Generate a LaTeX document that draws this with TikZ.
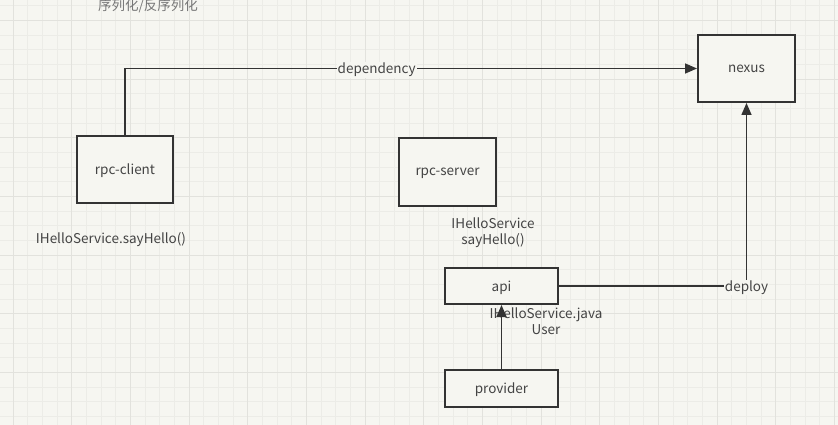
\documentclass[tikz,border=0pt]{standalone}
\usepackage{fontspec}
\setmainfont{Noto Sans CJK SC}
\usetikzlibrary{arrows.meta}
\definecolor{bg}{HTML}{F6F6F1}
\definecolor{gridminor}{HTML}{ECECE7}
\definecolor{gridmajor}{HTML}{E2E2DD}
\definecolor{ink}{HTML}{333333}
\definecolor{txt}{HTML}{444444}
\definecolor{txtlight}{HTML}{777777}
\tikzset{
  box/.style={draw=ink, line width=2pt, fill=bg, inner sep=0pt, text=txt,
    font=\fontsize{13.5}{15}\selectfont, text depth=-1.5pt},
  conn/.style={draw=ink, line width=1.6pt},
  arr/.style={-{Triangle[length=12pt,width=10pt]}},
  lbl/.style={text=txt, font=\fontsize{13.5}{15}\selectfont, inner sep=1pt, yshift=-1.5pt},
  note/.style={text=txt, font=\fontsize{13.5}{16}\selectfont, align=center, inner sep=0pt}
}
\begin{document}
\begin{tikzpicture}[x=1pt,y=-1pt]
\useasboundingbox (0,0) rectangle (838,425);
\fill[bg] (0,0) rectangle (838,425);
% grid
\foreach \i in {0,...,57} {
  \pgfmathsetmacro{\gx}{13+14.67*(\i-1)}
  \draw[gridminor, line width=1pt] (\gx,0) -- (\gx,425);
}
\foreach \i in {0,...,29} {
  \pgfmathsetmacro{\gy}{5.9+14.67*(\i)}
  \draw[gridminor, line width=1pt] (0,\gy) -- (838,\gy);
}
\foreach \i in {0,...,14} {
  \pgfmathsetmacro{\gx}{13+58.68*(\i)}
  \draw[gridmajor, line width=1pt] (\gx,0) -- (\gx,425);
}
\foreach \i in {0,...,7} {
  \pgfmathsetmacro{\gy}{20.57+58.68*(\i)}
  \draw[gridmajor, line width=1pt] (0,\gy) -- (838,\gy);
}

% nodes
\node[box, minimum width=97pt, minimum height=67pt] (nexus) at (746.5,68.5) {nexus};
\node[box, minimum width=96pt, minimum height=67pt] (client) at (125,169.5) {rpc-client};
\node[box, minimum width=97pt, minimum height=68pt] (server) at (447.5,172) {rpc-server};
\node[box, minimum width=113pt, minimum height=36pt] (api) at (501.5,286) {api};
\node[box, minimum width=113pt, minimum height=37pt] (provider) at (501.5,388.5) {provider};

% texts
\node[note, text=txtlight, font=\fontsize{13.5}{16}\selectfont] (ser) at (148,6) {序列化/反序列化};
\node[note] (call) at (111,239.5) {IHelloService.sayHello()};
\node[note] (iface) at (493,233) {IHelloService\\sayHello()};
\node[note] (java) at (546,321.5) {IHelloService.java\\User};

% connectors
\draw[conn, arr] (client.north) |- node[lbl, fill=bg, pos=0.72] (dep) {dependency} (nexus.west);
\draw[conn, arr] (api.east) -| node[lbl, fill=bg, pos=0.5] (deploy) {deploy} (nexus.south);
\draw[conn, arr] (provider.north) -- (api.south);
\end{tikzpicture}
\end{document}
